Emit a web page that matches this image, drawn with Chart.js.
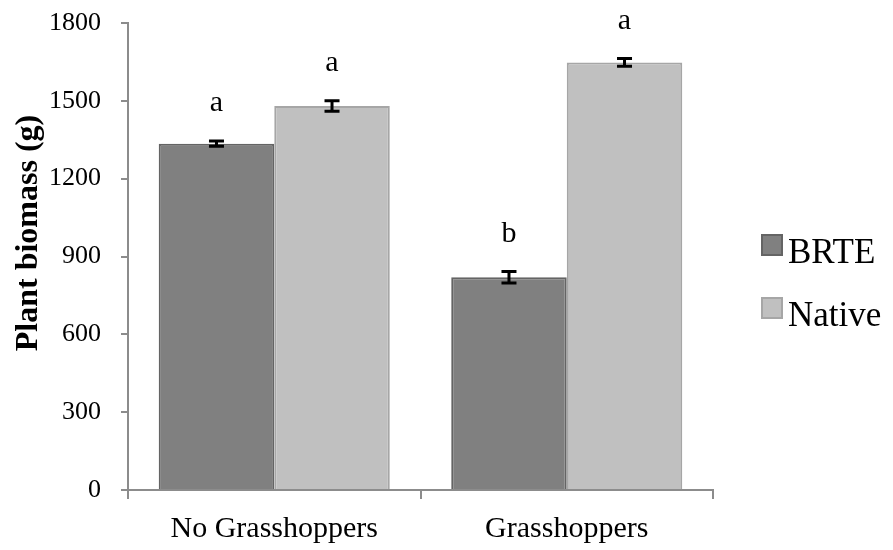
<!DOCTYPE html>
<html>
<head>
<meta charset="utf-8">
<script src="https://cdn.jsdelivr.net/npm/chart.js@4/dist/chart.umd.min.js"></script>
<style>
    html, body { margin: 0; padding: 0; background: #fff; }
    #wrap { width: 893px; height: 550px; }
</style>
</head>
<body>
<div id="wrap"><canvas id="myChart" width="893" height="550"></canvas></div>
<script>
    // Data-----
    const categories = ['No Grasshoppers', 'Grasshoppers'];
    const seriesNames = ['BRTE', 'Native'];
    const brteValues = [1335, 820];
    const nativeValues = [1480, 1648];
    const brteErrors = [10, 22];
    const nativeErrors = [20, 15];
    const brteLetters = ['a', 'b'];
    const nativeLetters = ['a', 'a'];
    const yTitle = 'Plant biomass (g)';
    const yMin = 0, yMax = 1800, yStep = 300;
    // Data-----

    const serif = "'Liberation Serif', 'Times New Roman', serif";
    const axisGrey = '#8c8c8c';

    // Error bars + letters-----
    const extras = [
        {errors: brteErrors, letters: brteLetters},
        {errors: nativeErrors, letters: nativeLetters}
    ];
    const errorBarPlugin = {
        id: 'errorBars',
        afterDatasetsDraw(chart) {
            const ctx = chart.ctx;
            const y = chart.scales.y;
            chart.data.datasets.forEach((ds, di) => {
                const meta = chart.getDatasetMeta(di);
                meta.data.forEach((bar, i) => {
                    const v = ds.data[i];
                    const e = extras[di].errors[i];
                    const top = y.getPixelForValue(v + e);
                    const bot = y.getPixelForValue(v - e);
                    ctx.save();
                    ctx.strokeStyle = '#000';
                    ctx.lineWidth = 3;
                    ctx.beginPath();
                    ctx.moveTo(bar.x, top);
                    ctx.lineTo(bar.x, bot);
                    ctx.moveTo(bar.x - 7.5, top);
                    ctx.lineTo(bar.x + 7.5, top);
                    ctx.moveTo(bar.x - 7.5, bot);
                    ctx.lineTo(bar.x + 7.5, bot);
                    ctx.stroke();
                    ctx.fillStyle = '#000';
                    ctx.font = '30px ' + serif;
                    ctx.textAlign = 'center';
                    ctx.textBaseline = 'alphabetic';
                    ctx.fillText(extras[di].letters[i], bar.x, top - 30);
                    ctx.restore();
                });
            });
        }
    };
    // Legend + axis title-----
    const legendPlugin = {
        id: 'sideLegend',
        afterDraw(chart) {
            const ctx = chart.ctx;
            const rows = [245, 308];
            chart.data.datasets.forEach((ds, di) => {
                const cy = rows[di];
                ctx.save();
                ctx.fillStyle = ds.backgroundColor;
                ctx.strokeStyle = ds.borderColor;
                ctx.lineWidth = 2;
                ctx.fillRect(762, cy - 10, 20, 20);
                ctx.strokeRect(762, cy - 10, 20, 20);
                ctx.fillStyle = '#000';
                ctx.font = '35px ' + serif;
                ctx.textAlign = 'left';
                ctx.textBaseline = 'alphabetic';
                ctx.fillText(ds.label, 788, cy + 18);
                ctx.restore();
            });
            ctx.save();
            ctx.translate(29, 233);
            ctx.rotate(-Math.PI / 2);
            ctx.fillStyle = '#000';
            ctx.font = 'bold 32px ' + serif;
            ctx.textAlign = 'center';
            ctx.textBaseline = 'middle';
            ctx.fillText(yTitle, 0, 0);
            ctx.restore();
        }
    };

    // Config-----
    const config = {
        type: 'bar',
        data: {
            labels: categories,
            datasets: [{
                label: seriesNames[0],
                data: brteValues,
                backgroundColor: '#808080',
                borderColor: '#646464',
                borderWidth: 2
            }, {
                label: seriesNames[1],
                data: nativeValues,
                backgroundColor: '#c0c0c0',
                borderColor: '#a6a6a6',
                borderWidth: 2
            }]
        },
        options: {
            responsive: false,
            animation: false,
            layout: {padding: {left: 0, right: 180, top: 23, bottom: 0}},
            datasets: {bar: {categoryPercentage: 0.79, barPercentage: 1.0}},
            plugins: {legend: {display: false}, tooltip: {enabled: false}},
            scales: {
                x: {
                    grid: {offset: true, drawOnChartArea: false, color: axisGrey, tickLength: 9, lineWidth: 2},
                    border: {color: axisGrey, width: 2},
                    ticks: {color: '#000', font: {family: serif, size: 30}, padding: 12},
                    afterFit(scale) { scale.height = 60; }
                },
                y: {
                    min: yMin,
                    max: yMax,
                    grid: {drawOnChartArea: false, color: axisGrey, tickLength: 7, lineWidth: 2},
                    border: {color: axisGrey, width: 2},
                    ticks: {stepSize: yStep, color: '#000', font: {family: serif, size: 26}, padding: 20,
                        callback: (v) => String(v)},
                    afterFit(scale) {
                        scale.width = 128;
                        scale.paddingTop = 0;
                        scale.paddingBottom = 0;
                    }
                }
            }
        },
        plugins: [errorBarPlugin, legendPlugin]
    };
    // Config-----

    var myChart = new Chart(document.getElementById('myChart'), config);
</script>
</body>
</html>
